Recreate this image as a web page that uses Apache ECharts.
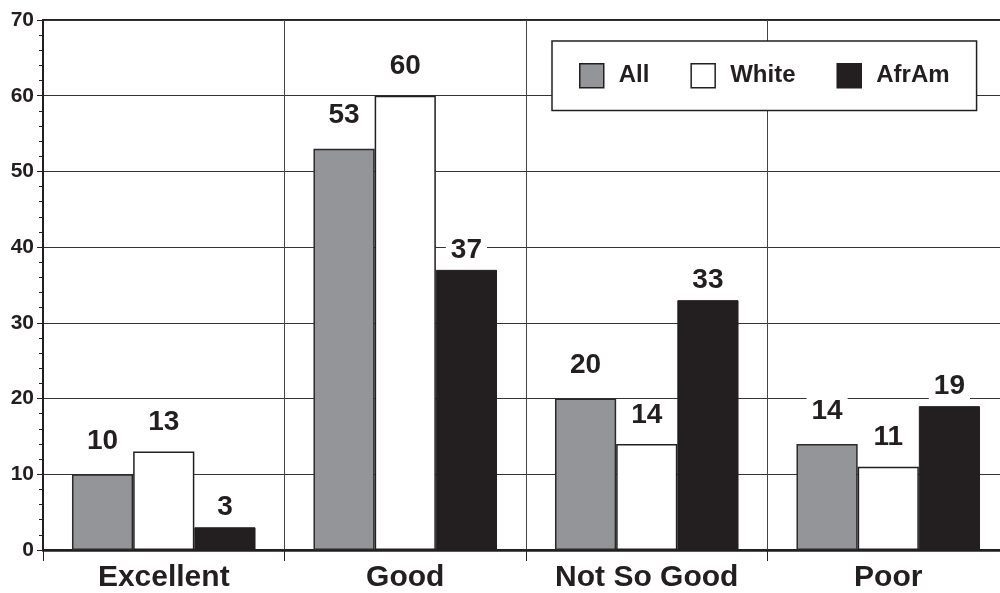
<!DOCTYPE html>
<html>
<head>
<meta charset="utf-8">
<script src="https://cdn.jsdelivr.net/npm/echarts@6/dist/echarts.min.js"></script>
<style>
html,body{margin:0;padding:0;background:#fff;overflow:hidden;width:1000px;height:593px;}
#chart{width:1010px;height:593px;}
</style>
</head>
<body>
<div id="chart"></div>
<script>
const categories = ['Excellent', 'Good', 'Not So Good', 'Poor'];
const seriesNames = ['All', 'White', 'AfrAm'];
const allValues = [10, 53, 20, 14];
const whiteValues = [13, 60, 14, 11];
const afrAmValues = [3, 37, 33, 19];
const yTicks = [0, 10, 20, 30, 40, 50, 60, 70];

const FONT = '"Liberation Sans", Arial, Helvetica, sans-serif';
const INK = '#231f20';

function labelCfg(dist) {
  return {
    show: true,
    position: 'top',
    distance: dist,
    fontFamily: FONT,
    fontWeight: 'bold',
    fontSize: 28,
    lineHeight: 28,
    color: INK,
    backgroundColor: '#fff',
    padding: [1, 5, 1, 5]
  };
}

const chart = echarts.init(document.getElementById('chart'), null, {renderer: 'canvas'});
chart.setOption({
  animation: false,
  backgroundColor: '#fff',
  grid: {
    left: 43, top: 20, bottom: 42, right: 1,
    show: true, borderColor: INK, borderWidth: 2, backgroundColor: 'transparent'
  },
  legend: {
    data: seriesNames,
    left: 552, top: 41,
    padding: [22, 27, 22, 27],
    itemWidth: 24, itemHeight: 24,
    itemGap: 41,
    itemStyle: {borderColor: INK, borderWidth: 1.5},
    textStyle: {fontFamily: FONT, fontWeight: 'bold', fontSize: 24, lineHeight: 24, color: INK, padding: [0, 0, 0, 10]},
    backgroundColor: '#fff',
    borderColor: INK,
    borderWidth: 1.5,
    borderRadius: 0,
    icon: 'rect',
    selectedMode: false
  },
  xAxis: {
    type: 'category',
    data: categories,
    boundaryGap: true,
    axisLine: {lineStyle: {color: INK, width: 2.5}},
    axisTick: {show: true, length: 11, lineStyle: {color: INK, width: 1}},
    splitLine: {show: true, lineStyle: {color: '#444', width: 1}},
    axisLabel: {fontFamily: FONT, fontWeight: 'bold', fontSize: 30, color: INK, margin: 13}
  },
  yAxis: {
    type: 'value',
    min: yTicks[0], max: yTicks[yTicks.length - 1], interval: 10,
    axisLine: {show: true, lineStyle: {color: INK, width: 1}},
    axisTick: {show: true, length: 6, lineStyle: {color: INK, width: 1}},
    minorTick: {show: true, splitNumber: 5, length: 4, lineStyle: {color: INK, width: 1}},
    splitLine: {show: true, lineStyle: {color: '#333', width: 1}},
    axisLabel: {fontFamily: FONT, fontWeight: 'bold', fontSize: 21, color: INK, margin: 9}
  },
  series: [
    {
      name: seriesNames[0], type: 'bar', data: allValues,
      barGap: '0%', barCategoryGap: '24%',
      itemStyle: {color: '#939598', borderColor: '#2a2a2a', borderWidth: 1.5},
      label: labelCfg(18)
    },
    {
      name: seriesNames[1], type: 'bar', data: whiteValues,
      barGap: '0%', barCategoryGap: '24%',
      itemStyle: {color: '#ffffff', borderColor: INK, borderWidth: 1.5},
      label: labelCfg(14)
    },
    {
      name: seriesNames[2], type: 'bar', data: afrAmValues,
      barGap: '0%', barCategoryGap: '24%',
      itemStyle: {color: INK, borderColor: INK, borderWidth: 1},
      label: labelCfg(5)
    }
  ]
});
</script>
</body>
</html>
